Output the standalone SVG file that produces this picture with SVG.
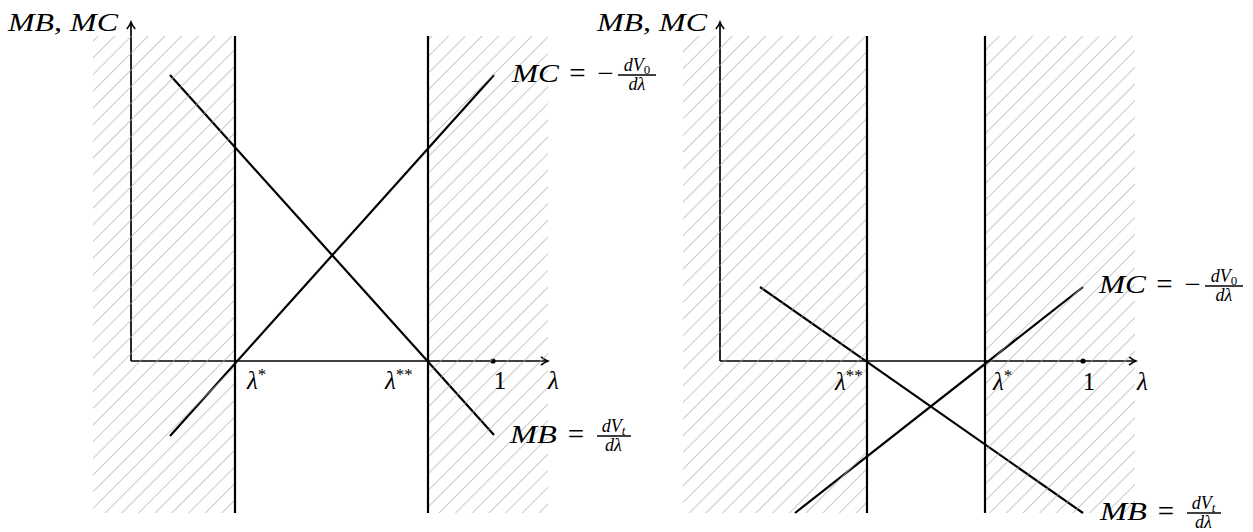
<svg xmlns="http://www.w3.org/2000/svg" width="1253" height="532" viewBox="0 0 1253 532">
<style>
.ax{stroke:#000;stroke-width:1.7;fill:none}
.ln{stroke:#000;stroke-width:2.2;fill:none}
.vl{stroke:#000;stroke-width:2.2;fill:none}
.m{font-family:"Liberation Serif","Times New Roman",serif;font-style:italic;fill:#000}
.u{font-family:"Liberation Serif","Times New Roman",serif;font-style:normal;fill:#000}
.bar{stroke:#000;stroke-width:1.4}
</style>
<defs>
<pattern id="hatch" patternUnits="userSpaceOnUse" width="11.8" height="11.8" patternTransform="rotate(45)">
<line x1="0" y1="-1" x2="0" y2="13" stroke="#ababab" stroke-width="1.3"/>
</pattern>
<marker id="arr" markerWidth="12" markerHeight="12" refX="10" refY="6" orient="auto" markerUnits="userSpaceOnUse">
<path d="M3,1.8 Q7,5 10,6 Q7,7 3,10.2" fill="none" stroke="#000" stroke-width="1.5"/>
</marker>
</defs>
<rect width="1253" height="532" fill="#fff"/>

<g id="left-panel">
<g id="left-axes">
<line class="ax" x1="131" y1="361" x2="131" y2="22" marker-end="url(#arr)"/>
<line class="ax" x1="131" y1="361" x2="548" y2="361" marker-end="url(#arr)"/>
<circle cx="493" cy="361" r="2.6" fill="#000"/>
</g>
<g id="left-curves">
<line class="ln" x1="170" y1="75" x2="494" y2="435"/>
<line class="ln" x1="170" y1="436" x2="494" y2="75"/>
</g>
<g id="left-hatch">
<rect x="93" y="36" width="142" height="477" fill="url(#hatch)"/>
<rect x="428" y="36" width="120" height="477" fill="url(#hatch)"/>
</g>
<g id="left-bounds">
<line class="vl" x1="235" y1="36" x2="235" y2="513"/>
<line class="vl" x1="428" y1="36" x2="428" y2="513"/>
</g>
<g id="left-labels">
<text class="m" x="8" y="31" font-size="25" textLength="110" lengthAdjust="spacingAndGlyphs">MB, MC</text>
<text class="m" x="247" y="389" font-size="25">λ<tspan font-size="17" dy="-9" style="font-style:normal">*</tspan></text>
<text class="m" x="385" y="389" font-size="25">λ<tspan font-size="17" dy="-9" style="font-style:normal">**</tspan></text>
<text class="u" x="500" y="389" font-size="25" text-anchor="middle">1</text>
<text class="m" x="548" y="389" font-size="25">λ</text>
<g id="left-mc-label">
<text class="m" x="512" y="82" font-size="25" textLength="47" lengthAdjust="spacingAndGlyphs">MC</text>
<text class="u" x="577.5" y="83" font-size="29" text-anchor="middle">=</text>
<text class="u" x="605.5" y="83" font-size="29" text-anchor="middle">−</text>
<line class="bar" x1="618" y1="75" x2="656" y2="75"/>
<text class="m" x="637" y="71" font-size="18" text-anchor="middle">dV<tspan style="font-style:normal" font-size="13" dy="3">0</tspan></text>
<text class="m" x="637" y="90" font-size="18" text-anchor="middle">dλ</text>
</g>
<g id="left-mb-label">
<text class="m" x="510" y="443" font-size="25" textLength="47" lengthAdjust="spacingAndGlyphs">MB</text>
<text class="u" x="576" y="444" font-size="29" text-anchor="middle">=</text>
<line class="bar" x1="597" y1="436" x2="631" y2="436"/>
<text class="m" x="613.5" y="432" font-size="18" text-anchor="middle">dV<tspan font-size="13" dy="3">t</tspan></text>
<text class="m" x="613.5" y="451" font-size="18" text-anchor="middle">dλ</text>
</g>
</g>
</g>

<g id="right-panel">
<g id="right-axes">
<line class="ax" x1="720" y1="361" x2="720" y2="22" marker-end="url(#arr)"/>
<line class="ax" x1="720" y1="361" x2="1136" y2="361" marker-end="url(#arr)"/>
<circle cx="1083" cy="361" r="2.6" fill="#000"/>
</g>
<g id="right-curves">
<line class="ln" x1="760" y1="287" x2="1083" y2="513"/>
<line class="ln" x1="795" y1="513" x2="1083" y2="287"/>
</g>
<g id="right-hatch">
<rect x="683" y="36" width="184" height="477" fill="url(#hatch)"/>
<rect x="985" y="36" width="150" height="477" fill="url(#hatch)"/>
</g>
<g id="right-bounds">
<line class="vl" x1="867" y1="36" x2="867" y2="513"/>
<line class="vl" x1="985" y1="36" x2="985" y2="513"/>
</g>
<g id="right-labels">
<text class="m" x="597" y="31" font-size="25" textLength="110" lengthAdjust="spacingAndGlyphs">MB, MC</text>
<text class="m" x="835" y="390" font-size="25">λ<tspan font-size="17" dy="-9" style="font-style:normal">**</tspan></text>
<text class="m" x="993" y="390" font-size="25">λ<tspan font-size="17" dy="-9" style="font-style:normal">*</tspan></text>
<text class="u" x="1089" y="390" font-size="25" text-anchor="middle">1</text>
<text class="m" x="1137" y="390" font-size="25">λ</text>
<g id="right-mc-label">
<text class="m" x="1099" y="293" font-size="25" textLength="47" lengthAdjust="spacingAndGlyphs">MC</text>
<text class="u" x="1164.5" y="294" font-size="29" text-anchor="middle">=</text>
<text class="u" x="1192.5" y="294" font-size="29" text-anchor="middle">−</text>
<line class="bar" x1="1205" y1="286" x2="1243" y2="286"/>
<text class="m" x="1224" y="282" font-size="18" text-anchor="middle">dV<tspan style="font-style:normal" font-size="13" dy="3">0</tspan></text>
<text class="m" x="1224" y="301" font-size="18" text-anchor="middle">dλ</text>
</g>
<g id="right-mb-label">
<text class="m" x="1100" y="520" font-size="25" textLength="47" lengthAdjust="spacingAndGlyphs">MB</text>
<text class="u" x="1166" y="521" font-size="29" text-anchor="middle">=</text>
<line class="bar" x1="1187" y1="513" x2="1221" y2="513"/>
<text class="m" x="1203.5" y="509" font-size="18" text-anchor="middle">dV<tspan font-size="13" dy="3">t</tspan></text>
<text class="m" x="1203.5" y="528" font-size="18" text-anchor="middle">dλ</text>
</g>
</g>
</g>
</svg>
